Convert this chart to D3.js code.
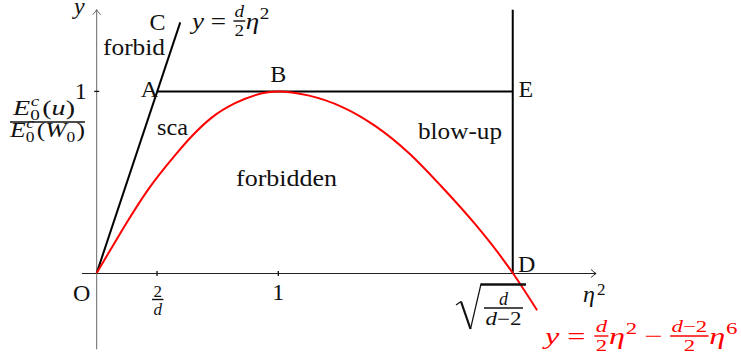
<!DOCTYPE html>
<html>
<head>
<meta charset="utf-8">
<script src="https://cdn.jsdelivr.net/npm/d3@7"></script>
<style>
html, body { margin: 0; padding: 0; background: #fff; }
svg { display: block; }
</style>
</head>
<body>
<svg id="chart" width="741" height="361"></svg>
<script>
// red curve (x = eta^2, y = energy ratio)
var curveX = [0, 0.090, 0.165, 0.282, 0.431, 0.530, 0.635, 0.762, 0.943, 1, 1.164, 1.350, 1.533, 1.714, 1.900, 2.083, 2.230, 2.291, 2.425];
var curveY = [0, 0.152, 0.277, 0.458, 0.648, 0.760, 0.857, 0.935, 0.995, 1, 0.978, 0.915, 0.810, 0.665, 0.475, 0.270, 0.085, 0, -0.205];

// named points of the diagram
var pointNames = ['O', 'A', 'B', 'C', 'D', 'E'];
var pointX = [0, 0.332, 1, 0.46, 2.291, 2.291];
var pointY = [0, 1, 1, 1.38, 0, 1];

var xTickVals = [0.332, 1];
var yTickVals = [1];
var xRange = [-0.081, 2.75];
var yRange = [-0.42, 1.45];
var lineTop = 1.45; // top of the vertical line through D and E

var FONT = '"Liberation Serif"';

var svg = d3.select('#chart');
var unit = 181.6;
var x = d3.scaleLinear().domain([0, 1]).range([96.7, 96.7 + unit]);
var y = d3.scaleLinear().domain([0, 1]).range([273, 273 - unit]);

var pts = {};
pointNames.forEach(function(n, i) { pts[n] = {x: pointX[i], y: pointY[i]}; });

function txt(s, px, py, opt, parent) {
	opt = opt || {};
	var t = (parent || svg).append('text')
		.attr('x', px).attr('y', py)
		.attr('font-family', FONT)
		.attr('font-size', opt.size || 24)
		.attr('text-anchor', opt.anchor || 'start')
		.attr('fill', opt.color || '#111')
		.text(s);
	if (opt.italic) t.attr('font-style', 'italic');
	if (opt.len) t.attr('textLength', opt.len).attr('lengthAdjust', 'spacingAndGlyphs');
	return t;
}

function bar(x1, x2, py, w, color, parent) {
	(parent || svg).append('line')
		.attr('x1', x1).attr('x2', x2).attr('y1', py).attr('y2', py)
		.attr('stroke', color || '#111').attr('stroke-width', w || 1.4);
}

// lay math pieces out left to right, then stretch to the wanted width
function mathRow(items, x0, base, size, color, width) {
	var g = svg.append('g');
	var cx = x0, small = Math.round(size * 0.7);
	items.forEach(function(it) {
		if (it.gap) { cx += it.gap; return; }
		if (it.t) {
			var t = txt(it.t, cx, base, {size: size, italic: it.it, color: color}, g);
			cx += t.node().getComputedTextLength();
			return;
		}
		if (it.sup || it.sub) {
			var w = 0;
			if (it.sup) w = Math.max(w, txt(it.sup, cx + 0.5, base - size * 0.42, {size: small, italic: it.supIt, color: color}, g).node().getComputedTextLength());
			if (it.sub) w = Math.max(w, txt(it.sub, cx, base + size * 0.22, {size: small, color: color}, g).node().getComputedTextLength());
			cx += w + 1;
			return;
		}
		if (it.frac) {
			var num = txt('', 0, base - 11.5, {size: small, anchor: 'middle', color: color}, g);
			it.frac[0].forEach(function(p) { num.append('tspan').attr('font-style', p[1] ? 'italic' : null).text(p[0]); });
			var den = txt('', 0, base + 7, {size: small, anchor: 'middle', color: color}, g);
			it.frac[1].forEach(function(p) { den.append('tspan').attr('font-style', p[1] ? 'italic' : null).text(p[0]); });
			var fw = Math.max(num.node().getComputedTextLength(), den.node().getComputedTextLength()) + 2;
			num.attr('x', cx + fw / 2 + 0.5);
			den.attr('x', cx + fw / 2 + 0.5);
			bar(cx + 0.5, cx + fw + 0.5, base - 8, 1.4, color, g);
			cx += fw + 1;
		}
	});
	if (width) {
		var k = width / (cx - x0);
		g.attr('transform', 'translate(' + x0 + ',0) scale(' + k + ',1) translate(' + (-x0) + ',0)');
	}
	return g;
}

// axes
var axisLine = d3.line();
svg.append('path')
	.attr('d', axisLine([[x(xRange[0]), y(0) + 0.5], [x(xRange[1]), y(0) + 0.5]]))
	.attr('stroke', '#222').attr('stroke-width', 1).attr('fill', 'none');
svg.append('path')
	.attr('d', axisLine([[x(0), y(yRange[0])], [x(0), y(yRange[1])]]))
	.attr('stroke', '#666').attr('stroke-width', 1).attr('fill', 'none');

// arrow heads
var ax = x(xRange[1]), ay = y(0) + 0.5;
svg.append('path')
	.attr('d', 'M' + (ax - 5) + ',' + (ay - 4) + 'Q' + (ax - 2) + ',' + (ay - 1) + ' ' + ax + ',' + ay +
		'Q' + (ax - 2) + ',' + (ay + 1) + ' ' + (ax - 5) + ',' + (ay + 4))
	.attr('stroke', '#222').attr('stroke-width', 1).attr('fill', 'none');
var bx = x(0), by = y(yRange[1]);
svg.append('path')
	.attr('d', 'M' + (bx - 4) + ',' + (by + 5) + 'Q' + (bx - 1) + ',' + (by + 2) + ' ' + bx + ',' + by +
		'Q' + (bx + 1) + ',' + (by + 2) + ' ' + (bx + 4) + ',' + (by + 5))
	.attr('stroke', '#666').attr('stroke-width', 1).attr('fill', 'none');

// ticks
var gx = svg.append('g')
	.attr('transform', 'translate(-0.5,' + (y(0) - 2) + ')')
	.call(d3.axisBottom(x).tickValues(xTickVals).tickSize(5).tickFormat(''));
gx.select('.domain').remove();
gx.selectAll('line').attr('stroke', '#111').attr('stroke-width', 1.3);

var gy = svg.append('g')
	.attr('transform', 'translate(' + (x(0) + 2.5) + ',-0.5)')
	.call(d3.axisLeft(y).tickValues(yTickVals).tickSize(5).tickFormat(''));
gy.select('.domain').remove();
gy.selectAll('line').attr('stroke', '#111').attr('stroke-width', 1.3);

// black lines: O-C, A-E, D-top
var seg = d3.line().x(function(d) { return x(d.x); }).y(function(d) { return y(d.y); });
svg.append('path').attr('d', seg([pts.O, pts.C]))
	.attr('stroke', '#000').attr('stroke-width', 2).attr('fill', 'none');
svg.append('path').attr('d', seg([pts.A, pts.E]))
	.attr('stroke', '#000').attr('stroke-width', 2).attr('fill', 'none');
svg.append('path').attr('d', seg([pts.D, {x: pts.D.x, y: lineTop}]))
	.attr('stroke', '#000').attr('stroke-width', 2).attr('fill', 'none');

// red curve
var curveData = curveX.map(function(v, i) { return {x: v, y: curveY[i]}; });
var curve = d3.line()
	.curve(d3.curveMonotoneX)
	.x(function(d) { return x(d.x); })
	.y(function(d) { return y(d.y); });
svg.append('path').attr('d', curve(curveData))
	.attr('stroke', '#ff0000').attr('stroke-width', 2).attr('fill', 'none');

// point labels
var labelOffsets = {
	O: [-15, 28, 'middle'],
	A: [1, 6, 'end'],
	B: [0, -9.5, 'middle'],
	C: [-22.7, 7.6, 'middle'],
	D: [5.3, -1.5, 'start'],
	E: [5.8, 6, 'start']
};
pointNames.forEach(function(n) {
	var o = labelOffsets[n];
	txt(n, x(pts[n].x) + o[0], y(pts[n].y) + o[1], {anchor: o[2]});
});

// tick labels
txt('1', x(1), y(0) + 27, {anchor: 'middle'});
txt('2', x(xTickVals[0]) + 0.8, y(0) + 24, {size: 17, anchor: 'middle'});
bar(x(xTickVals[0]) - 5, x(xTickVals[0]) + 6.5, y(0) + 26.5);
txt('d', x(xTickVals[0]) + 0.8, y(0) + 41.5, {size: 17, anchor: 'middle', italic: true});
txt('1', x(0) - 10, y(1) + 8, {anchor: 'end'});

// axis names
txt('y', 74, 14, {italic: true});
txt('\u03b7', 583, 302, {italic: true});
txt('2', 597, 295, {size: 17});

// y label fraction E0c(u) / E0c(W0)
mathRow([{t: 'E', it: 1}, {sup: 'c', supIt: 1, sub: '0'}, {gap: 1}, {t: '('}, {t: 'u', it: 1}, {t: ')'}], 13, 115, 22, '#111', 62);
bar(10, 85, 122);
mathRow([{t: 'E', it: 1}, {sup: 'c', supIt: 1, sub: '0'}, {gap: 1}, {t: '('}, {t: 'W', it: 1}, {sub: '0'}, {t: ')'}], 10, 137, 22, '#111', 75);

// region labels
txt('forbid', 103, 55, {len: 62});
txt('sca', 157, 135, {len: 31});
txt('forbidden', 236, 186, {len: 101});
txt('blow-up', 418, 139, {len: 84});

// line label y = d/2 eta^2
mathRow([{t: 'y', it: 1}, {gap: 6}, {t: '='}, {gap: 6},
	{frac: [[['d', 1]], [['2', 0]]]}, {t: '\u03b7', it: 1}, {sup: '2'}], 192, 29, 24, '#111', 78);

// sqrt(d/(d-2)) under D
svg.append('path').attr('d', 'M456,305 L461,301.5').attr('stroke', '#111').attr('stroke-width', 1.1).attr('fill', 'none');
svg.append('path').attr('d', 'M461,301.5 L470.5,329').attr('stroke', '#111').attr('stroke-width', 2.2).attr('fill', 'none');
svg.append('path').attr('d', 'M470.5,329 L481,284').attr('stroke', '#111').attr('stroke-width', 1.2).attr('fill', 'none');
bar(480.5, 526, 284.5, 2.6);
txt('d', 503.5, 305, {size: 18, italic: true, anchor: 'middle'});
bar(484, 523, 308, 1.6);
var dd = txt('', 503.5, 325, {size: 18, anchor: 'middle', len: 36});
dd.append('tspan').attr('font-style', 'italic').text('d');
dd.append('tspan').text('\u22122');

// curve label
var red = '#ff0000';
mathRow([{t: 'y', it: 1}, {gap: 6}, {t: '='}, {gap: 6},
	{frac: [[['d', 1]], [['2', 0]]]}, {t: '\u03b7', it: 1}, {sup: '2'}, {gap: 5}, {t: '\u2212'}, {gap: 5},
	{frac: [[['d', 1], ['\u22122', 0]], [['2', 0]]]}, {t: '\u03b7', it: 1}, {sup: '6'}], 545, 344, 24, red, 193);
</script>
</body>
</html>
